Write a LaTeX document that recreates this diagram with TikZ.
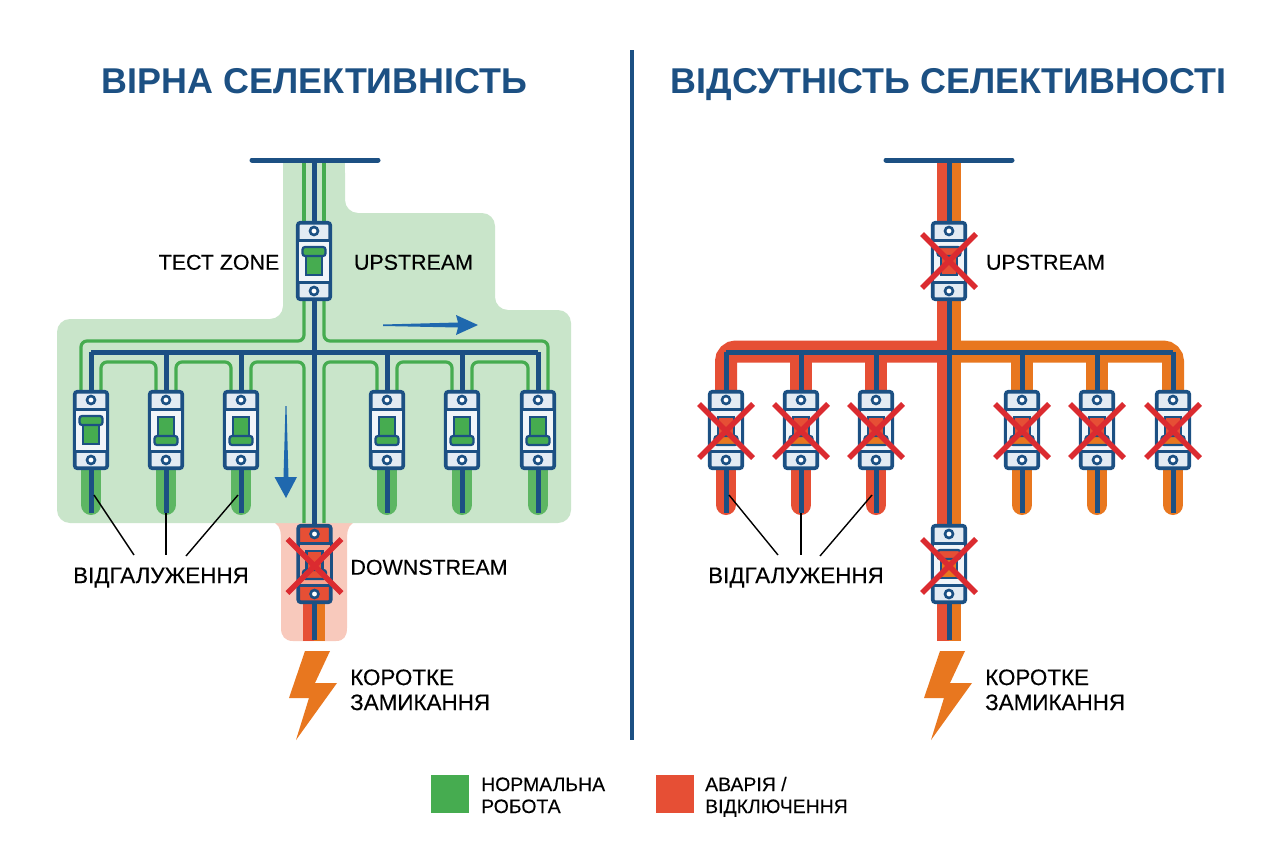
\documentclass[tikz,border=0pt]{standalone}
\usepackage{fontspec}
\setmainfont{Liberation Sans}
\newfontfamily\medfont[FakeBold=0.25]{Liberation Sans}
\definecolor{navy}{HTML}{1C5083}
\definecolor{arrowblue}{HTML}{1F68AE}
\definecolor{zonegreen}{HTML}{C9E5CA}
\definecolor{linegreen}{HTML}{46AC50}
\definecolor{stubgreen}{HTML}{5DB663}
\definecolor{zonered}{HTML}{F8C9BC}
\definecolor{faultred}{HTML}{E64F35}
\definecolor{faultorange}{HTML}{E8771F}
\definecolor{crossred}{HTML}{DB2B30}
\definecolor{cellgrey}{HTML}{E3EBF3}
\definecolor{panelgrey}{HTML}{F1F5F9}
\definecolor{panelred}{HTML}{F6A48F}
\tikzset{
  titletext/.style={font=\fontsize{36}{40}\selectfont\bfseries,text=navy,inner sep=0pt,text height=25.8bp,text depth=0pt},
  labeltext/.style={font=\medfont\fontsize{21.5}{25}\selectfont,text=black,inner sep=0pt,text height=15.4bp,text depth=0pt},
  cyrtext/.style={font=\medfont\fontsize{22.5}{26}\selectfont,text=black,inner sep=0pt,text height=16.1bp,text depth=0pt},
  legendtext/.style={font=\medfont\fontsize{19.5}{22}\selectfont,text=black,inner sep=0pt,anchor=west,text height=14bp,text depth=0pt},
  navyline/.style={draw=navy,line width=5bp},
  busline/.style={draw=navy,line width=5bp,line cap=round},
  greenline/.style={draw=linegreen,line width=3.2bp,rounded corners=6bp},
  stub/.style={line width=20bp,line cap=round},
  band/.style={line width=22bp},
  leader/.style={draw=black,line width=1.4bp},
  bolt/.style={fill=faultorange,draw=none},
  crossline/.style={draw=crossred,line width=5.5bp},
}
% #1 name, #2 x centre, #3 y top, #4 cell colour, #5 panel colour, #6 lever content
\newcommand{\brk}[6]{%
  \begin{scope}[shift={(#2,#3)}]
    \node[draw=navy,line width=3.6bp,rounded corners=2.5bp,fill=#4,minimum width=32.5bp,minimum height=76.5bp,inner sep=0pt,outer sep=0pt] (#1) at (0,40) {};
    \draw[navy,line width=3bp,fill=#5] (-16.5,19) rectangle (16.5,61);
    \draw[navy,line width=2.6bp,fill=white] (0,10) circle (4);
    \draw[navy,line width=2.6bp,fill=white] (0,70) circle (4);
    #6
  \end{scope}}
\newcommand{\leverup}[2]{%
  \draw[navy,line width=2.2bp,fill=#1] (-8,35) rectangle (8,54);
  \draw[navy,line width=2.2bp,fill=#2,rounded corners=2.5bp] (-11.5,26) rectangle (11.5,35);}
\newcommand{\leverdown}[2]{%
  \draw[navy,line width=2.2bp,fill=#1] (-8,27) rectangle (8,46);
  \draw[navy,line width=2.2bp,fill=#2,rounded corners=2.5bp] (-11.5,46) rectangle (11.5,55);}
\newcommand{\cross}[2]{%
  \draw[crossline] ({#1-27},{#2-27}) -- ({#1+27},{#2+27});
  \draw[crossline] ({#1-27},{#2+27}) -- ({#1+27},{#2-27});}
\begin{document}
\begin{tikzpicture}[x=1bp,y=-1bp]
\useasboundingbox (0,0) rectangle (1264,848);
\fill[white] (0,0) rectangle (1264,848);

% ---------- titles and divider
\node[titletext] (t1) at (314.5,81) {ВІРНА СЕЛЕКТИВНІСТЬ};
\node[titletext] (t2) at (948.5,81) {ВІДСУТНІСТЬ СЕЛЕКТИВНОСТІ};
\coordinate (divtop) at (632,50);
\coordinate (divbot) at (632,740);
\draw[navy,line width=4bp] (divtop) -- (divbot);

% ---------- LEFT: zones
\fill[zonered] (275,523) .. controls (281,527) and (281,532) .. (281,545) -- (281,628)
  .. controls (281,636) and (285,641) .. (293,641) -- (336,641)
  .. controls (344,641) and (347,636) .. (347,628) -- (347,545)
  .. controls (347,532) and (347,527) .. (353,523) -- cycle;
\fill[zonegreen,rounded corners=13bp] (283,160) -- (345,160) -- (345,213) -- (495,213) -- (495,310)
  -- (571,310) -- (571,523) -- (57,523) -- (57,319) -- (283,319) -- cycle;
\fill[zonegreen] (283,160) rectangle (345,180);

% ---------- LEFT: coordinates
\coordinate (lbusl) at (252,160);
\coordinate (lbusr) at (378,160);
\coordinate (lmaintop) at (314,160);
\coordinate (lmainbot) at (314,640);
\foreach \n/\x in {a/91,b/166,c/241,d/387,e/462,f/538}{
  \coordinate (\n top) at (\x,352);
  \coordinate (\n bk) at (\x,390);
  \coordinate (\n low) at (\x,469);
  \coordinate (\n stub) at (\x,505);
  \coordinate (\n end) at (\x,513);
}
% stubs
\foreach \n in {a,b,c,d,e,f}{\draw[stubgreen,stub] (\n low) -- (\n stub);}
% green conductors
\draw[greenline] (304,160) -- (304,221);
\draw[greenline] (324,160) -- (324,221);
\draw[greenline] (81,390) -- (81,341) -- (304,341) -- (304,300);
\draw[greenline] (548,390) -- (548,341) -- (324,341) -- (324,300);
\draw[greenline] (101,390) -- (101,362) -- (156,362) -- (156,390);
\draw[greenline] (176,390) -- (176,362) -- (231,362) -- (231,390);
\draw[greenline] (251,390) -- (251,362) -- (304,362) -- (304,523);
\draw[greenline] (324,523) -- (324,362) -- (377,362) -- (377,390);
\draw[greenline] (397,390) -- (397,362) -- (452,362) -- (452,390);
\draw[greenline] (472,390) -- (472,362) -- (528,362) -- (528,390);
% fault stripes
\fill[faultred] (303,603) rectangle (314,641);
\fill[faultorange] (314,603) rectangle (325,641);
% navy conductors
\draw[navyline] (lmaintop) -- (lmainbot);
\draw[navyline] (atop) -- (ftop);
\foreach \n in {a,b,c,d,e,f}{\draw[navyline] (\n top) -- (\n bk); \draw[navyline] (\n low) -- (\n end);}
\draw[busline] (lbusl) -- (lbusr);

% LEFT: breakers
\brk{lup}{314}{221}{cellgrey}{panelgrey}{\leverup{linegreen}{linegreen}}
\brk{la}{91}{390}{cellgrey}{panelgrey}{\leverup{linegreen}{linegreen}}
\brk{lb}{166}{390}{cellgrey}{panelgrey}{\leverdown{linegreen}{linegreen}}
\brk{lc}{241}{390}{cellgrey}{panelgrey}{\leverdown{linegreen}{linegreen}}
\brk{ld}{387}{390}{cellgrey}{panelgrey}{\leverdown{linegreen}{linegreen}}
\brk{le}{462}{390}{cellgrey}{panelgrey}{\leverdown{linegreen}{linegreen}}
\brk{lf}{538}{390}{cellgrey}{panelgrey}{\leverdown{linegreen}{linegreen}}
\brk{ldown}{314.5}{524}{faultred}{panelred}{\leverdown{faultred}{faultred}}
\cross{314.5}{566}

% LEFT: flow arrows
\fill[arrowblue] (383,324.5) -- (458,322.5) -- (456,315) -- (478,325) -- (456,335) -- (458,327.5) -- (383,326) -- cycle;
\fill[arrowblue] (285.5,406) -- (283.5,477) -- (274.5,477) -- (286,498) -- (297,477) -- (288.5,477) -- (286.5,406) -- cycle;

% LEFT: bolt
\fill[bolt] (305,651) -- (330,651) -- (315,683) -- (337,683) -- (296,740) -- (309,698) -- (289,698) -- cycle;

% LEFT: labels
\node[labeltext] (ltest) at (219,262) {ТЕСТ ZONE};
\node[labeltext] (lupt) at (413.5,262) {UPSTREAM};
\node[labeltext] (ldownt) at (429,567) {DOWNSTREAM};
\node[cyrtext] (lbr) at (161,575) {ВІДГАЛУЖЕННЯ};
\node[cyrtext,anchor=west] (lk1) at (350,677) {КОРОТКЕ};
\node[cyrtext,anchor=west] (lk2) at (350,702) {ЗАМИКАННЯ};
\coordinate (la1) at (94,495);
\coordinate (la2) at (134,555);
\coordinate (lb1) at (166,513);
\coordinate (lb2) at (166,555);
\coordinate (lc1) at (238,495);
\coordinate (lc2) at (186,556);
\draw[leader] (la1) -- (la2);
\draw[leader] (lb1) -- (lb2);
\draw[leader] (lc1) -- (lc2);

% ---------- RIGHT: coordinates
\coordinate (rbusl) at (886,160);
\coordinate (rbusr) at (1012,160);
\coordinate (rmaintop) at (949,160);
\coordinate (rmainbot) at (949,640);
\foreach \n/\x in {p/726,q/801,r/876,s/1022,t/1097,u/1173}{
  \coordinate (\n top) at (\x,352);
  \coordinate (\n bk) at (\x,390);
  \coordinate (\n low) at (\x,469);
  \coordinate (\n stub) at (\x,505);
  \coordinate (\n end) at (\x,513);
}
% RIGHT: fault bands
\draw[faultred,band,rounded corners=10bp] (pbk) -- (726,351.5) -- (943,351.5);
\draw[faultorange,band,rounded corners=10bp] (ubk) -- (1173,351.5) -- (955,351.5);
\foreach \n in {q,r}{\draw[faultred,band] (\n top) -- (\n bk);}
\foreach \n in {s,t}{\draw[faultorange,band] (\n top) -- (\n bk);}
\foreach \n in {p,q,r}{\draw[faultred,stub] (\n low) -- (\n stub);}
\foreach \n in {s,t,u}{\draw[faultorange,stub] (\n low) -- (\n stub);}
\fill[faultred] (937,160) rectangle (949,641);
\fill[faultorange] (949,160) rectangle (961,641);
% RIGHT: navy conductors
\draw[navyline] (rmaintop) -- (rmainbot);
\draw[navyline] (ptop) -- (utop);
\foreach \n in {p,q,r,s,t,u}{\draw[navyline] (\n top) -- (\n bk); \draw[navyline] (\n low) -- (\n end);}
\draw[busline] (rbusl) -- (rbusr);

% RIGHT: breakers
\brk{rup}{949}{221}{cellgrey}{panelgrey}{\leverup{faultred}{faultred}}
\brk{rp}{726}{390}{cellgrey}{panelgrey}{\leverdown{faultred}{faultorange}}
\brk{rq}{801}{390}{cellgrey}{panelgrey}{\leverdown{faultred}{faultorange}}
\brk{rr}{876}{390}{cellgrey}{panelgrey}{\leverdown{faultred}{faultorange}}
\brk{rs}{1022}{390}{cellgrey}{panelgrey}{\leverdown{faultred}{faultorange}}
\brk{rt}{1097}{390}{cellgrey}{panelgrey}{\leverdown{faultred}{faultorange}}
\brk{ru}{1173}{390}{cellgrey}{panelgrey}{\leverdown{faultred}{faultorange}}
\brk{rdown}{949}{524}{cellgrey}{panelgrey}{\leverup{faultorange}{faultred}}
\cross{949}{261}
\foreach \x in {726,801,876,1022,1097,1173}{\cross{\x}{431}}
\cross{949}{566}

% RIGHT: bolt
\fill[bolt] (940,651) -- (965,651) -- (950,683) -- (972,683) -- (931,740) -- (944,698) -- (924,698) -- cycle;

% RIGHT: labels
\node[labeltext] (rupt) at (1045.5,262) {UPSTREAM};
\node[cyrtext] (rbr) at (796,575) {ВІДГАЛУЖЕННЯ};
\node[cyrtext,anchor=west] (rk1) at (985,677) {КОРОТКЕ};
\node[cyrtext,anchor=west] (rk2) at (985,702) {ЗАМИКАННЯ};
\coordinate (ra1) at (729,495);
\coordinate (ra2) at (778,555);
\coordinate (rb1) at (801,513);
\coordinate (rb2) at (801,555);
\coordinate (rc1) at (872,495);
\coordinate (rc2) at (820,556);
\draw[leader] (ra1) -- (ra2);
\draw[leader] (rb1) -- (rb2);
\draw[leader] (rc1) -- (rc2);

% ---------- legend
\node[fill=linegreen,minimum width=38bp,minimum height=38bp,inner sep=0pt,outer sep=0pt] (legg) at (450,794) {};
\node[fill=faultred,minimum width=38bp,minimum height=38bp,inner sep=0pt,outer sep=0pt] (legr) at (675,794) {};
\node[legendtext] (legt1a) at (481,784) {НОРМАЛЬНА};
\node[legendtext] (legt1b) at (481,806) {РОБОТА};
\node[legendtext] (legt2a) at (705,784) {АВАРІЯ /};
\node[legendtext] (legt2b) at (705,806) {ВІДКЛЮЧЕННЯ};
\end{tikzpicture}
\end{document}
